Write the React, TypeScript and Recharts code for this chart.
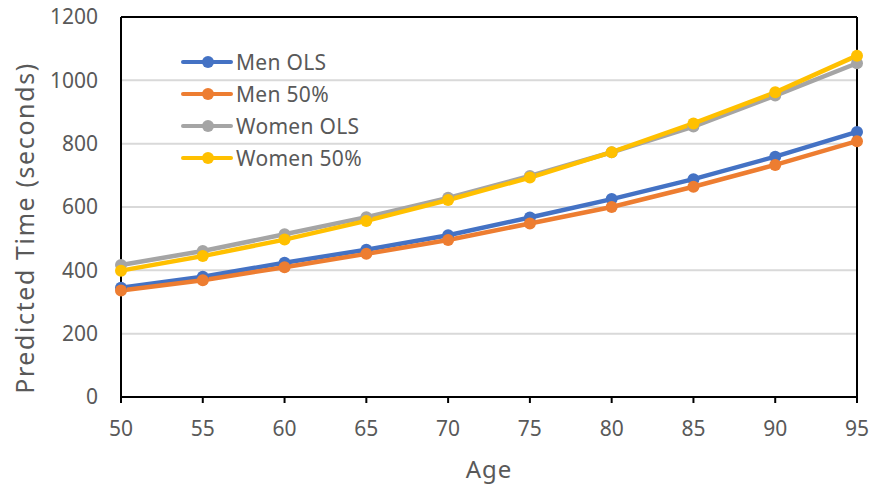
import React from 'react';
import {
	LineChart,
	Line,
	XAxis,
	YAxis,
	CartesianGrid,
	Legend,
	ReferenceLine,
} from 'recharts';

const ages = [50, 55, 60, 65, 70, 75, 80, 85, 90, 95];
const menOLS = [345, 380, 424, 465, 511, 567, 625, 688, 759, 837];
const men50 = [336, 369, 410, 452, 496, 548, 600, 664, 733, 808];
const womenOLS = [417, 461, 514, 568, 629, 698, 773, 854, 952, 1054];
const women50 = [399, 445, 497, 556, 622, 693, 773, 864, 962, 1078];
const yTicks = [0, 200, 400, 600, 800, 1000, 1200];

const series = [
	{ key: 'menOLS', name: 'Men OLS', color: '#4472C4' },
	{ key: 'men50', name: 'Men 50%', color: '#ED7D31' },
	{ key: 'womenOLS', name: 'Women OLS', color: '#A5A5A5' },
	{ key: 'women50', name: 'Women 50%', color: '#FFC000' },
];

const data = ages.map((age, i) => ({
	age,
	menOLS: menOLS[i],
	men50: men50[i],
	womenOLS: womenOLS[i],
	women50: women50[i],
}));

const FONT = '"Noto Sans", sans-serif';
const TEXT = '#595959';

const LegendBox = () => (
	<div
		style={{ fontFamily: FONT, fontSize: 21, color: TEXT, letterSpacing: 0.3 }}
	>
		{series.map((s) => (
			<div
				key={s.key}
				style={{ display: 'flex', alignItems: 'center', height: 32 }}
			>
				<svg width={54} height={16}>
					<line
						x1={2}
						y1={8}
						x2={50}
						y2={8}
						stroke={s.color}
						strokeWidth={4}
						strokeLinecap='round'
					/>
					<circle cx={27} cy={8} r={6} fill={s.color} />
				</svg>
				<span style={{ marginLeft: 1 }}>{s.name}</span>
			</div>
		))}
	</div>
);

// axis title sits a bit below the plot's middle, like in the original
const YTitle = (props: any) => {
	const vb = props.viewBox || {};
	const cy = (vb.y || 0) + (vb.height || 0) / 2 + 21;
	return (
		<text
			x={24}
			y={cy}
			transform={`rotate(-90, 24, ${cy})`}
			textAnchor='middle'
			dominantBaseline='central'
			fill={TEXT}
			fontSize={25}
			fontFamily={FONT}
			letterSpacing={1.6}
		>
			Predicted Time (seconds)
		</text>
	);
};

export default function App() {
	return (
		<div style={{ position: 'absolute', top: 0, left: 0, background: '#fff' }}>
			<LineChart
				width={873}
				height={487}
				data={data}
				margin={{ top: 17, right: 16, left: 0, bottom: 0 }}
			>
				<CartesianGrid
					horizontal={true}
					vertical={false}
					stroke='#d9d9d9'
					strokeWidth={2}
				/>
				<XAxis
					dataKey='age'
					type='number'
					domain={[50, 95]}
					ticks={ages}
					height={90}
					stroke='#000'
					strokeWidth={2}
					tickSize={6}
					tickMargin={18}
					tick={{ fill: TEXT, fontSize: 21, fontFamily: FONT }}
					label={{
						value: 'Age',
						position: 'insideBottom',
						offset: 9,
						fill: TEXT,
						fontSize: 24,
						fontFamily: FONT,
						letterSpacing: 1,
					}}
				/>
				<YAxis
					domain={[0, 1200]}
					ticks={yTicks}
					width={121}
					stroke='#000'
					strokeWidth={2}
					tickLine={false}
					tickSize={0}
					tickMargin={23}
					tick={{ fill: TEXT, fontSize: 21, fontFamily: FONT }}
					label={<YTitle />}
				/>
				<ReferenceLine y={1200} stroke='#000' strokeWidth={2} />
				<ReferenceLine x={95} stroke='#000' strokeWidth={2} />
				<Legend
					layout='vertical'
					align='center'
					verticalAlign='middle'
					content={<LegendBox />}
					wrapperStyle={{ top: 46, left: 181, width: 200 }}
				/>
				{series.map((s) => (
					<Line
						key={s.key}
						dataKey={s.key}
						name={s.name}
						type='linear'
						stroke={s.color}
						strokeWidth={4.5}
						dot={{ r: 6, fill: s.color, stroke: s.color, strokeWidth: 0 }}
						activeDot={false}
						isAnimationActive={false}
					/>
				))}
			</LineChart>
		</div>
	);
}
